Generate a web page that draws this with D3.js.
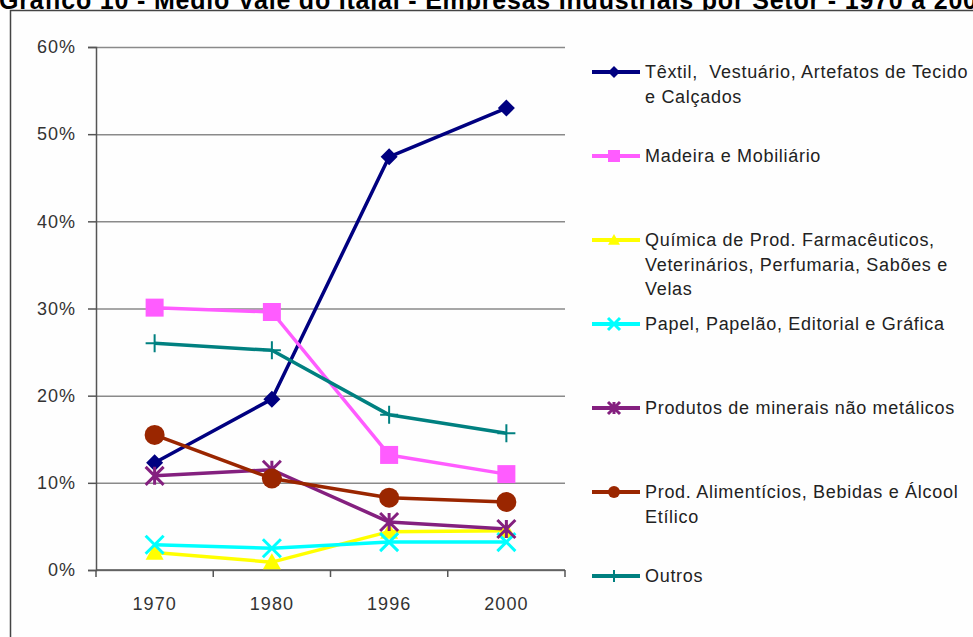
<!DOCTYPE html>
<html>
<head>
<meta charset="utf-8">
<script src="https://cdn.jsdelivr.net/npm/d3@7"></script>
<style>
  body { margin: 0; background: #ffffff; }
  svg { display: block; font-family: "Liberation Sans", Arial, sans-serif; }
</style>
</head>
<body>
<script>
'use strict';

// chart data
const years = ["1970", "1980", "1996", "2000"];
const yTicks = [0, 0.1, 0.2, 0.3, 0.4, 0.5, 0.6];

const textil = [0.123, 0.196, 0.474, 0.530];
const madeira = [0.301, 0.296, 0.132, 0.110];
const quimica = [0.020, 0.009, 0.044, 0.045];
const papel = [0.029, 0.025, 0.032, 0.032];
const minerais = [0.108, 0.115, 0.055, 0.047];
const alimenticios = [0.155, 0.105, 0.083, 0.078];
const outros = [0.260, 0.252, 0.178, 0.157];

const seriesNames = [
  ["Têxtil,  Vestuário, Artefatos de Tecido", "e Calçados"],
  ["Madeira e Mobiliário"],
  ["Química de Prod. Farmacêuticos,", "Veterinários, Perfumaria, Sabões e", "Velas"],
  ["Papel, Papelão, Editorial e Gráfica"],
  ["Produtos de minerais não metálicos"],
  ["Prod. Alimentícios, Bebidas e Álcool", "Etílico"],
  ["Outros"]
];

const title = "Gráfico 10 - Médio Vale do Itajaí - Empresas Industriais por Setor - 1970 a 2000";

(function() {
  const width = 973, height = 637;
  const colors = ["#000080", "#ff5cff", "#ffff00", "#00ffff", "#84207f", "#9a2600", "#008080"];
  const markers = ["diamond", "square", "triangle", "x", "star", "circle", "plus"];
  const allValues = [textil, madeira, quimica, papel, minerais, alimenticios, outros];

  const series = allValues.map((vals, i) => ({
    name: seriesNames[i],
    color: colors[i],
    marker: markers[i],
    values: vals
  }));

  const svg = d3.select('body')
    .append('svg')
    .attr('width', width)
    .attr('height', height);

  // title, cut at the top of the image as in the scan
  svg.append('text')
    .attr('x', -1)
    .attr('y', 9)
    .style('font-size', '25px')
    .style('font-weight', 'bold')
    .style('letter-spacing', '0.8px')
    .attr('fill', '#000')
    .text(title);

  // chart frame
  svg.append('rect')
    .attr('x', 10.5)
    .attr('y', 10.5)
    .attr('width', 1000)
    .attr('height', 700)
    .attr('fill', '#fefefe')
    .attr('stroke', '#444')
    .attr('stroke-width', 1.5);

  const plot = { left: 96, right: 565, top: 47, bottom: 570 };

  const x = d3.scaleBand()
    .domain(years)
    .range([plot.left, plot.right])
    .padding(0);

  const y = d3.scaleLinear()
    .domain([0, 0.6])
    .range([plot.bottom, plot.top]);

  // gridlines
  svg.append('g')
    .attr('transform', `translate(${plot.left}, 0)`)
    .call(d3.axisLeft(y).tickValues(yTicks).tickSize(-(plot.right - plot.left)).tickFormat(''))
    .call(g => g.select('.domain').remove())
    .call(g => g.selectAll('line').attr('stroke', '#8a8a8a').attr('stroke-width', 1.5));

  // y axis
  const yAxis = svg.append('g')
    .attr('transform', `translate(${plot.left}, 0)`)
    .call(d3.axisLeft(y).tickValues(yTicks).tickSize(8).tickPadding(12).tickFormat(d3.format('.0%')));
  yAxis.select('.domain').attr('stroke', '#555').attr('stroke-width', 1.5);
  yAxis.selectAll('line').attr('stroke', '#555').attr('stroke-width', 1.5);
  yAxis.selectAll('text')
    .style('font-size', '18px')
    .style('letter-spacing', '1px')
    .attr('fill', '#333');

  // x axis
  const xAxis = svg.append('g')
    .attr('transform', `translate(0, ${plot.bottom})`)
    .call(d3.axisBottom(x).tickSize(0).tickPadding(27));
  xAxis.select('.domain').remove();
  xAxis.selectAll('text')
    .style('font-size', '18px')
    .style('letter-spacing', '1px')
    .attr('fill', '#333');
  xAxis.append('line')
    .attr('x1', plot.left).attr('x2', plot.right)
    .attr('stroke', '#555').attr('stroke-width', 1.5);
  // tick marks sit between categories
  xAxis.selectAll('.edge')
    .data(years.concat(['end']))
    .enter()
    .append('line')
    .attr('x1', (d, i) => plot.left + i * x.step())
    .attr('x2', (d, i) => plot.left + i * x.step())
    .attr('y1', 0)
    .attr('y2', 7)
    .attr('stroke', '#555')
    .attr('stroke-width', 1.5);

  // marker shapes
  function markerPath(type, s) {
    const h = s / 2;
    if (type === 'diamond') return `M0,${-h}L${h},0L0,${h}L${-h},0Z`;
    if (type === 'square') return `M${-h},${-h}H${h}V${h}H${-h}Z`;
    if (type === 'triangle') return `M0,${-h}L${h},${h * 0.8}L${-h},${h * 0.8}Z`;
    if (type === 'circle') return d3.symbol(d3.symbolCircle, Math.PI * h * h)();
    if (type === 'x') return `M${-h},${-h}L${h},${h}M${-h},${h}L${h},${-h}`;
    if (type === 'plus') return `M${-h},0H${h}M0,${-h}V${h}`;
    if (type === 'star') return `M${-h},${-h}L${h},${h}M${-h},${h}L${h},${-h}M0,${-h}V${h}`;
    return '';
  }
  const strokeOnly = { x: true, plus: true, star: true };

  function drawMarker(g, s, size) {
    const open = strokeOnly[s.marker];
    g.append('path')
      .attr('d', markerPath(s.marker, size))
      .attr('fill', open ? 'none' : s.color)
      .attr('stroke', s.color)
      .attr('stroke-width', open ? (s.marker === 'plus' ? 2 : 3) : 0);
  }

  const line = d3.line()
    .x((d, i) => x(years[i]) + x.bandwidth() / 2)
    .y(d => y(d));

  const sizes = { diamond: 17, square: 18, triangle: 18, x: 18, star: 18, circle: 20, plus: 18 };

  series.forEach(s => {
    svg.append('path')
      .datum(s.values)
      .attr('d', line)
      .attr('fill', 'none')
      .attr('stroke', s.color)
      .attr('stroke-width', 3.5)
      .attr('stroke-linejoin', 'round');
  });
  series.forEach(s => {
    s.values.forEach((v, i) => {
      const g = svg.append('g')
        .attr('transform', `translate(${x(years[i]) + x.bandwidth() / 2}, ${y(v)})`);
      drawMarker(g, s, sizes[s.marker]);
    });
  });

  // legend
  const legend = svg.append('g');
  series.forEach((s, i) => {
    const ly = 72 + i * 84;
    const item = legend.append('g').attr('transform', `translate(592, ${ly})`);
    item.append('line')
      .attr('x1', 0).attr('x2', 48)
      .attr('stroke', s.color)
      .attr('stroke-width', 4);
    const m = item.append('g').attr('transform', 'translate(22, 0)');
    drawMarker(m, s, 12);
    const t = item.append('text')
      .attr('x', 53)
      .attr('y', 6)
      .style('font-size', '18px')
      .style('letter-spacing', '0.7px')
      .style('white-space', 'pre')
      .attr('fill', '#222');
    s.name.forEach((ln, j) => {
      t.append('tspan')
        .attr('x', 53)
        .attr('dy', j === 0 ? 0 : 24.5)
        .text(ln);
    });
  });
})();
</script>
</body>
</html>
